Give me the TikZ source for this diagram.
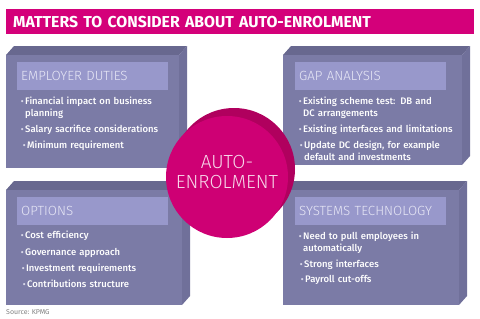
\documentclass[tikz,border=0pt]{standalone}
\usepackage{fontspec}
\setmainfont{Fira Sans}
\newfontfamily\lightfont{Fira Sans Light}
\newfontfamily\medfont{Fira Sans Medium}
\definecolor{mag}{HTML}{D4007A}
\definecolor{circc}{HTML}{CE0074}
\definecolor{circback}{HTML}{B0005E}
\definecolor{circtxt}{HTML}{F7D6E9}
\definecolor{frontc}{HTML}{7B7BA6}
\definecolor{topc}{HTML}{68688F}
\definecolor{sidec}{HTML}{70709A}
\definecolor{headc}{HTML}{9898CB}
\definecolor{headtxt}{HTML}{E8E8F6}
\definecolor{dotc}{HTML}{D8D8E8}
% slab: left, top, right, bottom of the front face
\newcommand\slab[4]{%
 \fill[topc] (#1,#2) -- (#1+8,#2-9) -- (#3+8,#2-9) -- (#3,#2) -- cycle;
 \fill[sidec] (#3,#2) -- (#3+8,#2-9) -- (#3+8,#4-9) -- (#3,#4) -- cycle;
 \fill[frontc] (#1,#2) rectangle (#3,#4);}
\newcommand\bul{\llap{\textcolor{dotc}{\fontsize{8.5}{8}\selectfont•}\hspace{1.5pt}}}
\begin{document}
\begin{tikzpicture}[x=1pt,y=-1pt,
 bar/.style={fill=mag,anchor=north west,minimum height=25pt,text width=454pt,inner xsep=7pt,align=left,text=white,font=\bfseries\fontsize{15.8}{16}\selectfont},
 head/.style={fill=headc,anchor=north west,minimum height=28pt,text width=143pt,inner xsep=4pt,align=left,text=headtxt,font=\lightfont\fontsize{13.3}{15}\selectfont},
 item/.style={anchor=base west,text width=150pt,align=left,inner sep=0pt,text=white,font=\medfont\fontsize{9.5}{12}\selectfont}]
\useasboundingbox (0,0) rectangle (480,319);
\node[bar] (title) at (6,9) {MATTERS TO CONSIDER ABOUT AUTO-ENROLMENT};
% four panels
\slab{6}{55}{179}{168} \slab{283}{55}{462}{165}
\slab{6}{190}{182}{305} \slab{283}{190}{459}{305}
\node[head] (duties) at (17,62) {EMPLOYER DUTIES};
\node[head] (gap) at (295,62) {GAP ANALYSIS};
\node[head] (opt) at (17,197) {OPTIONS};
\node[head] (sys) at (295,197) {SYSTEMS TECHNOLOGY};
\node[item] (d1) at (25,104.5) {\bul Financial impact on business\\planning};
\node[item] (d2) at (25,132.5) {\bul Salary sacrifice considerations};
\node[item] (d3) at (27,148.5) {\bul Minimum requirement};
\node[item] (g1) at (303,104.5) {\bul Existing scheme test: DB and\\DC arrangements};
\node[item] (g2) at (303,132.5) {\bul Existing interfaces and limitations};
\node[item] (g3) at (304,148.5) {\bul Update DC design, for example\\default and investments};
\node[item] (o1) at (25,238.5) {\bul Cost efficiency};
\node[item] (o2) at (25,255) {\bul Governance approach};
\node[item] (o3) at (26,271.5) {\bul Investment requirements};
\node[item] (o4) at (27,287.5) {\bul Contributions structure};
\node[item] (s1) at (303,239) {\bul Need to pull employees in\\automatically};
\node[item] (s2) at (304,267) {\bul Strong interfaces};
\node[item] (s3) at (305,282.5) {\bul Payroll cut-offs};
% centre disc
\fill[circback] (234,169) circle (61);
\node[circle,fill=circc,minimum size=122pt,inner sep=0pt] (disc) at (227,177) {};
\node[align=center,text=circtxt,font=\lightfont\fontsize{19}{20}\selectfont] (auto) at (227,172) {AUTO-\\ENROLMENT};
\node[anchor=north west,inner sep=0pt,text=gray,font=\fontsize{7}{8}\selectfont] (src) at (6,309) {Source: KPMG};
\end{tikzpicture}
\end{document}
